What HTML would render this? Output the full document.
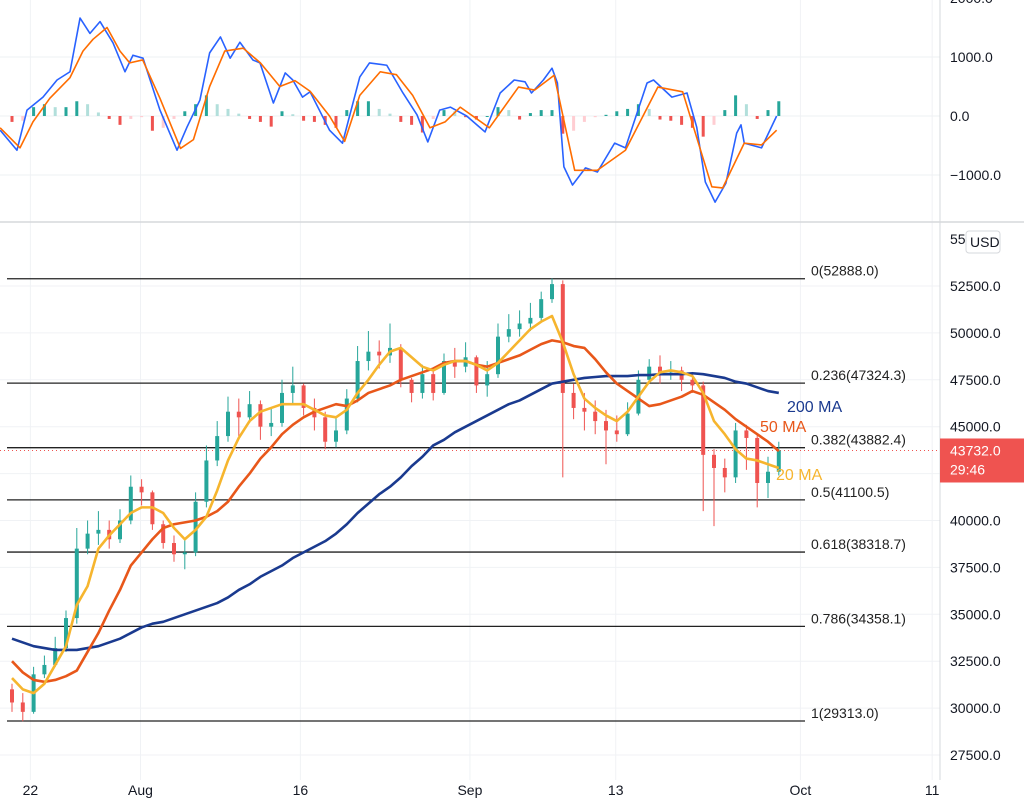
<!DOCTYPE html>
<html><head><meta charset="utf-8"><style>
html,body{margin:0;padding:0;background:#fff;}
svg{display:block;font-family:"Liberation Sans",sans-serif;}
</style></head><body>
<svg id="chart" width="1024" height="809" viewBox="0 0 1024 809" xmlns="http://www.w3.org/2000/svg">
<rect width="1024" height="809" fill="#fff"/>
<g id="grid"></g>
<g id="macd"></g>
<g id="fib"></g>
<g id="candles"></g>
<g id="mas"></g>
<g id="axes"></g>
</svg>
<script>
const closes=[30300,29800,31800,32300,33200,34800,38500,39300,39500,39000,40000,41800,41500,39800,38800,38200,38300,41000,43200,44500,45800,45500,46200,45000,45200,46800,47200,46000,45500,44200,44800,46500,48500,49000,48800,49200,47500,46800,47800,46800,48500,48200,48700,47200,47800,49800,50200,50500,50800,51800,52600,46800,46000,45800,45300,44800,44600,45700,47500,48200,47900,48000,47500,47200,43500,42800,42300,44800,44400,42000,42600,43732];
const firstOpen=31000;
const highs=[31300,30800,32200,32800,33800,35200,39600,40000,40500,40000,40600,42400,42200,41600,40000,39200,39000,41500,44000,45300,46600,46500,46900,46400,46000,47500,48200,47300,46500,45800,45500,47000,49300,50100,49600,50500,49400,47600,48300,48100,48900,49200,49500,48800,48500,50500,51000,51200,51600,52200,52900,52800,47300,46800,46400,45900,45600,46300,48000,48600,48800,48500,48200,47900,47400,43800,43300,45200,45100,44600,43400,44200];
const lows=[29800,29300,29700,31600,32200,33000,34500,38200,38700,38500,38800,39800,40800,39500,38500,37800,37400,38100,40700,42900,44200,44500,45200,44300,44500,45000,46200,45600,44800,43800,43900,44600,46300,48000,48100,48400,47100,46300,46500,46400,46700,47600,47900,46800,46600,47600,49500,49800,50100,50600,51600,42300,45400,44800,44600,43000,44200,44500,45600,47300,47300,47500,46900,46800,40500,39700,41500,42000,42700,40700,41200,42400];
const ma20=[31600,31000,30800,31300,32300,33300,35500,36500,38500,39200,39800,40400,40700,40700,40400,39600,39000,39500,40200,41600,43200,44400,45300,45800,46000,46200,46200,46200,45900,45600,45500,45900,46800,47500,48300,49000,49200,48700,48200,48000,48300,48500,48500,48300,48000,48400,49000,49600,50200,50600,50900,49500,47800,46500,46000,45600,45300,45800,46600,47400,47900,48000,47900,47700,46800,45300,44600,43800,43300,43200,43000,42800];
const ma50=[32500,31900,31500,31400,31500,31700,32000,33000,34000,35200,36300,37600,38300,39000,39600,39800,39900,40000,40200,40500,41000,41800,42500,43300,43900,44600,45100,45500,45800,46000,46200,46100,46400,46800,47000,47200,47500,47700,47900,48100,48400,48500,48500,48300,48200,48400,48600,48800,49100,49400,49600,49500,49300,49200,48600,47900,47300,46900,46500,46100,46200,46400,46600,46900,46700,46300,45900,45400,45000,44600,44200,43700];
const ma200=[33700,33500,33300,33200,33100,33100,33100,33200,33300,33500,33700,34000,34300,34500,34600,34800,35000,35200,35400,35600,35900,36300,36600,37000,37300,37600,38000,38300,38600,38900,39300,39800,40400,40900,41400,41800,42300,42900,43400,44000,44300,44700,45000,45300,45600,45900,46200,46400,46700,47000,47300,47400,47500,47600,47650,47700,47700,47700,47750,47750,47800,47800,47800,47850,47800,47700,47600,47400,47300,47100,46900,46800];
const macdDays=[-1.1,0.46,1.39,2.87,4.17,5.37,6.3,7.22,8.15,9.35,10.46,11.2,12.13,13.7,15.28,16.2,17.4,18.3,19.3,20.2,21.1,22.3,22.96,24.2,25.3,26.0,26.9,27.6,29.4,30.6,32.2,33.1,34.7,36.2,37.5,38.5,39.6,40.6,42.1,43.3,43.8,45.2,46.5,47.5,48.1,49.2,50,50.5,51.1,51.9,53.1,54.2,55.8,56.8,58.8,59.4,61.1,62.5,63.4,64.2,65.1,66.1,67.1,67.5,67.8,69.4,70.8];
const macdVals=[-240,-580,100,320,610,750,1660,1400,1600,1240,750,1030,980,100,-580,-190,270,1070,1340,980,1250,950,900,220,730,610,320,410,-240,-460,660,900,860,390,20,-440,100,150,0,-190,-270,390,610,580,390,610,810,560,-860,-1170,-880,-950,-460,-540,560,610,320,390,-190,-1120,-1460,-1140,-290,-150,-460,-540,0];
const sigDays=[-1.1,0.74,1.94,3.5,5.37,6.57,7.5,8.8,10,10.9,12.1,13.7,15.6,16.8,18.3,19.7,21.4,23,24.8,26.2,27.6,29.4,30.8,32.2,34.1,35.6,37.1,38.7,40.1,41.5,44.2,46.9,48.4,50.2,52.1,54.2,56.8,59.8,62.1,64.8,65.8,67.8,69.4,70.8];
const sigVals=[-200,-540,-100,300,650,1100,1300,1500,1100,900,950,300,-550,-400,500,1100,1150,900,500,600,420,0,-430,350,750,700,350,-200,-100,150,-200,490,440,690,-920,-920,-580,490,410,-1200,-1220,-460,-490,-240];
const hist=[-100,-80,150,200,150,150,250,200,60,-50,-150,-50,-20,-250,-200,-50,80,200,350,200,120,40,-50,-100,-180,80,30,-80,-100,-150,-200,100,250,250,120,40,-100,-150,-280,-50,100,80,-20,-60,0,150,100,-60,50,100,100,-300,-250,-100,-20,20,80,120,200,120,-60,-80,-150,-200,-350,-150,100,350,200,-50,100,250];
const priceTicks=[27500,30000,32500,35000,37500,40000,42500,45000,47500,50000,52500];
const macdTicks=[-1000,0,1000,2000];
const fibLevels=[0,0.236,0.382,0.5,0.618,0.786,1];
const fibPrices=[52888.0,47324.3,43882.4,41100.5,38318.7,34358.1,29313.0];
const xLabels=["22","Aug","16","Sep","13","Oct","11"];
const xLabelDays=[1.7,11.9,26.7,42.4,55.9,73,85.2];
const lastPrice=43732.0;

const NS="http://www.w3.org/2000/svg";
const X=d=>12+d*10.8;
const Y=p=>286+(52500-p)*0.01876;
const MY=v=>116-v*0.059;
function mk(tag,attrs,parent,text){const e=document.createElementNS(NS,tag);for(const k in attrs)e.setAttribute(k,attrs[k]);if(text!==undefined)e.textContent=text;parent.appendChild(e);return e;}
const grid=document.getElementById('grid'),macdG=document.getElementById('macd'),fibG=document.getElementById('fib'),cG=document.getElementById('candles'),maG=document.getElementById('mas'),ax=document.getElementById('axes');

xLabelDays.forEach(d=>{const l=mk('line',{x1:X(d),x2:X(d),y1:0,y2:780,stroke:'#f0f2f5','stroke-width':1},grid);

});
priceTicks.forEach(p=>{const l=mk('line',{x1:0,x2:940,y1:Y(p),y2:Y(p),stroke:'#f0f2f5'},grid);

});
macdTicks.forEach(v=>{const l=mk('line',{x1:0,x2:940,y1:MY(v),y2:MY(v),stroke:'#eef0f3'},grid);

});
const sep=mk('line',{x1:0,x2:1024,y1:222,y2:222,stroke:'#d6d8dc','stroke-width':1.5},grid);


const vsep=mk('line',{x1:940,x2:940,y1:0,y2:780,stroke:'#d6d8dc'},grid);



hist.forEach((v,i)=>{const prev=i>0?hist[i-1]:0;let col;
if(v>=0)col=v>=prev?'#26a69a':'#b2dfdb';else col=v<=prev?'#ef5350':'#ffcdd2';
const y0=MY(0),y1=MY(v);
const r=mk('rect',{x:X(i)-1.5,y:Math.min(y0,y1),width:3,height:Math.max(1,Math.abs(y1-y0)),fill:col},macdG);

});
const mp=mk('polyline',{points:macdDays.map((d,i)=>X(d)+','+MY(macdVals[i])).join(' '),fill:'none',stroke:'#2962ff','stroke-width':1.6,'stroke-linejoin':'round'},macdG);


const sp=mk('polyline',{points:sigDays.map((d,i)=>X(d)+','+MY(sigVals[i])).join(' '),fill:'none',stroke:'#ff6d00','stroke-width':1.6,'stroke-linejoin':'round'},macdG);



const cl=mk('line',{x1:0,x2:940,y1:Y(lastPrice),y2:Y(lastPrice),stroke:'#ef5350','stroke-width':1,'stroke-dasharray':'1 3'},fibG);



fibPrices.forEach((p,i)=>{const l=mk('line',{x1:7,x2:805,y1:Y(p),y2:Y(p),stroke:'#222','stroke-width':1.3},fibG);


const t=mk('text',{x:811,y:Y(p)-3,'font-size':14,fill:'#222'},fibG,fibLevels[i]+'('+p.toFixed(1)+')');

});

closes.forEach((c,i)=>{const o=i===0?firstOpen:closes[i-1];const up=c>=o;const col=up?'#26a69a':'#ef5350';
const w=mk('line',{x1:X(i),x2:X(i),y1:Y(highs[i]),y2:Y(lows[i]),stroke:col,'stroke-width':1},cG);


const b=mk('rect',{x:X(i)-2,y:Y(Math.max(o,c)),width:4,height:Math.max(1,Math.abs(Y(o)-Y(c))),fill:col},cG);

});

[[ma200,'#1a3a8f','ma-200-line'],[ma50,'#e8571a','ma-50-line'],[ma20,'#f6b52e','ma-20-line']].forEach(([arr,col,name])=>{
const p=mk('polyline',{points:arr.map((v,i)=>X(i)+','+Y(v)).join(' '),fill:'none',stroke:col,'stroke-width':2.6,'stroke-linejoin':'round'},maG);

});
const l200=mk('text',{x:787,y:412,'font-size':16,fill:'#1a3a8f'},maG,'200 MA');


const l50=mk('text',{x:760,y:432,'font-size':16,fill:'#e8571a'},maG,'50 MA');


const l20=mk('text',{x:776,y:480,'font-size':16,fill:'#f6b52e'},maG,'20 MA');



priceTicks.forEach(p=>{const t=mk('text',{x:950,y:Y(p)+5,'font-size':14,fill:'#131722'},ax,p.toFixed(1));

});
const top5=mk('text',{x:950,y:Y(55000)+5,'font-size':14,fill:'#131722'},ax,'55000.0');


macdTicks.forEach(v=>{const t=mk('text',{x:950,y:MY(v)+5,'font-size':14,fill:'#131722'},ax,(v<0?'\u2212'+Math.abs(v):v)+'.0');

});
const usdBg=mk('rect',{x:966,y:231,width:34,height:22,fill:'#fff',stroke:'#d6d8dc',rx:3},ax);


const usd=mk('text',{x:970,y:247,'font-size':14,fill:'#131722'},ax,'USD');


const tag=mk('rect',{x:940,y:Y(lastPrice)-12,width:84,height:44,fill:'#ef5350'},ax);


const tp=mk('text',{x:950,y:Y(lastPrice)+5,'font-size':14,fill:'#fff'},ax,lastPrice.toFixed(1));


const tc=mk('text',{x:950,y:Y(lastPrice)+24,'font-size':14,fill:'#fff'},ax,'29:46');


xLabels.forEach((s,i)=>{const t=mk('text',{x:X(xLabelDays[i]),y:795,'font-size':14,fill:'#131722','text-anchor':'middle'},ax,s);

});
</script>
</body></html>
